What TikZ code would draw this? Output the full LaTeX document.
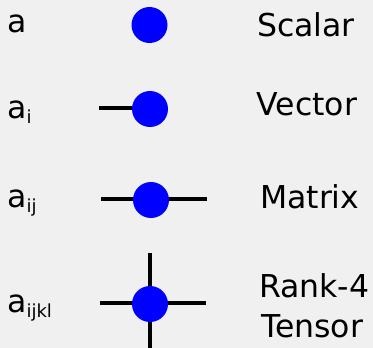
\documentclass[tikz,border=0pt]{standalone}
\usepackage{fontspec}
\setmainfont{DejaVu Sans}
\definecolor{bgc}{RGB}{240,240,240}
\newcommand{\subidx}[1]{{\fontsize{18}{18}\selectfont\raisebox{-5pt}{#1}}}
\begin{document}
\begin{tikzpicture}[x=1pt,y=-1pt,
  dot/.style={circle,fill=blue,minimum size=36pt,inner sep=0pt},
  leg/.style={line width=4pt,black},
  lbl/.style={anchor=base west,inner sep=0pt,font=\fontsize{31.5}{38}\selectfont}]
\fill[bgc] (0,0) rectangle (373,348);
\useasboundingbox (0,0) rectangle (373,348);
% Scalar
\node[dot] (s) at (149.5,25) {};
\node[lbl] (sl) at (7,32) {a};
\node[lbl] (st) at (257,36) {Scalar};
% Vector
\coordinate (v1) at (99,108);
\draw[leg] (v1) -- (150,108);
\node[dot] (v) at (150,109) {};
\node[lbl] (vl) at (7,118) {a\subidx{i}};
\node[lbl] (vt) at (256.5,115) {Vector};
% Matrix
\coordinate (m1) at (101,199);
\coordinate (m2) at (207,199);
\draw[leg] (m1) -- (m2);
\node[dot] (m) at (151,200) {};
\node[lbl] (ml) at (7,207) {a\subidx{ij}};
\node[lbl] (mt) at (260,208) {Matrix};
% Rank-4
\coordinate (r1) at (100,303);
\coordinate (r2) at (206,303);
\coordinate (r3) at (150,253);
\coordinate (r4) at (150,348);
\draw[leg] (r1) -- (r2);
\draw[leg] (r3) -- (r4);
\node[dot] (r) at (150,304) {};
\node[lbl] (rl) at (7,312) {a\subidx{ijkl}};
\node[lbl] (rt) at (259,297) {Rank-4};
\node[lbl] (rt2) at (261,337) {Tensor};
\end{tikzpicture}
\end{document}
